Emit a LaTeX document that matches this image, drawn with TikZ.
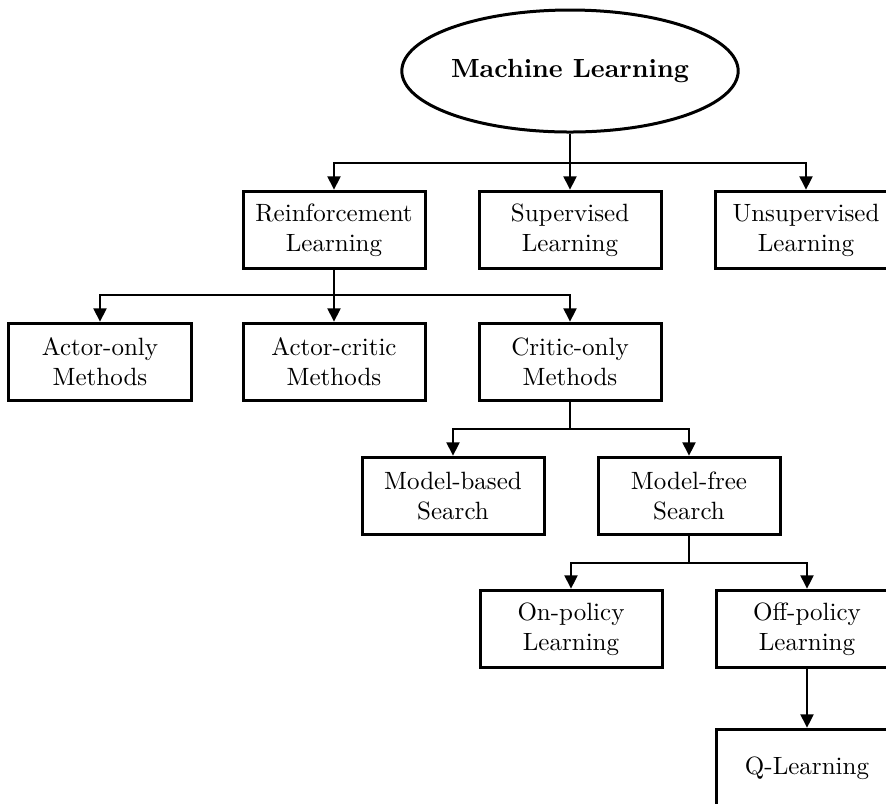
\documentclass[tikz,border=0pt]{standalone}
\usetikzlibrary{shapes.geometric,arrows.meta}
\begin{document}
\begin{tikzpicture}[x=0.4pt,y=-0.4pt,
  box/.style={draw,line width=1.2pt,minimum width=72.8pt,minimum height=31pt,
              inner sep=0pt,align=center,font=\fontsize{10}{12}\selectfont},
  root/.style={draw,ellipse,line width=1.2pt,minimum width=120pt,minimum height=48.8pt,
               inner sep=0pt,font=\fontsize{10.5}{12}\selectfont\bfseries},
  conn/.style={line width=0.8pt,-{Triangle[length=5.4pt,width=5.2pt]}}]
  \path[use as bounding box,clip] (0,0) rectangle (886,803);

  % nodes
  \node[root] (ml) at (570,71) {Machine Learning};
  \node[box] (rl) at (334,230) {Reinforcement\\Learning};
  \node[box] (sl) at (570,230) {Supervised\\Learning};
  \node[box] (ul) at (806,230) {Unsupervised\\Learning};
  \node[box] (ao) at (100,362) {Actor-only\\Methods};
  \node[box] (ac) at (334,362) {Actor-critic\\Methods};
  \node[box] (co) at (570,362) {Critic-only\\Methods};
  \node[box] (mb) at (453,496) {Model-based\\Search};
  \node[box] (mf) at (689,496) {Model-free\\Search};
  \node[box] (op) at (571,629) {On-policy\\Learning};
  \node[box] (fp) at (807,629) {Off-policy\\Learning};
  \node[box] (ql) at (807,768) {Q-Learning};

  % horizontal bus levels
  \coordinate (b1) at (0,163);
  \coordinate (b2) at (0,295);
  \coordinate (b3) at (0,429);
  \coordinate (b4) at (0,563);

  % connectors
  \draw[conn] (ml.south) -- (ml.south |- b1) -| (rl.north);
  \draw[conn] (ml.south) -- (sl.north);
  \draw[conn] (ml.south) -- (ml.south |- b1) -| (ul.north);

  \draw[conn] (rl.south) -- (rl.south |- b2) -| (ao.north);
  \draw[conn] (rl.south) -- (ac.north);
  \draw[conn] (rl.south) -- (rl.south |- b2) -| (co.north);

  \draw[conn] (co.south) -- (co.south |- b3) -| (mb.north);
  \draw[conn] (co.south) -- (co.south |- b3) -| (mf.north);

  \draw[conn] (mf.south) -- (mf.south |- b4) -| (op.north);
  \draw[conn] (mf.south) -- (mf.south |- b4) -| (fp.north);

  \draw[conn] (fp.south) -- (ql.north);
\end{tikzpicture}
\end{document}
